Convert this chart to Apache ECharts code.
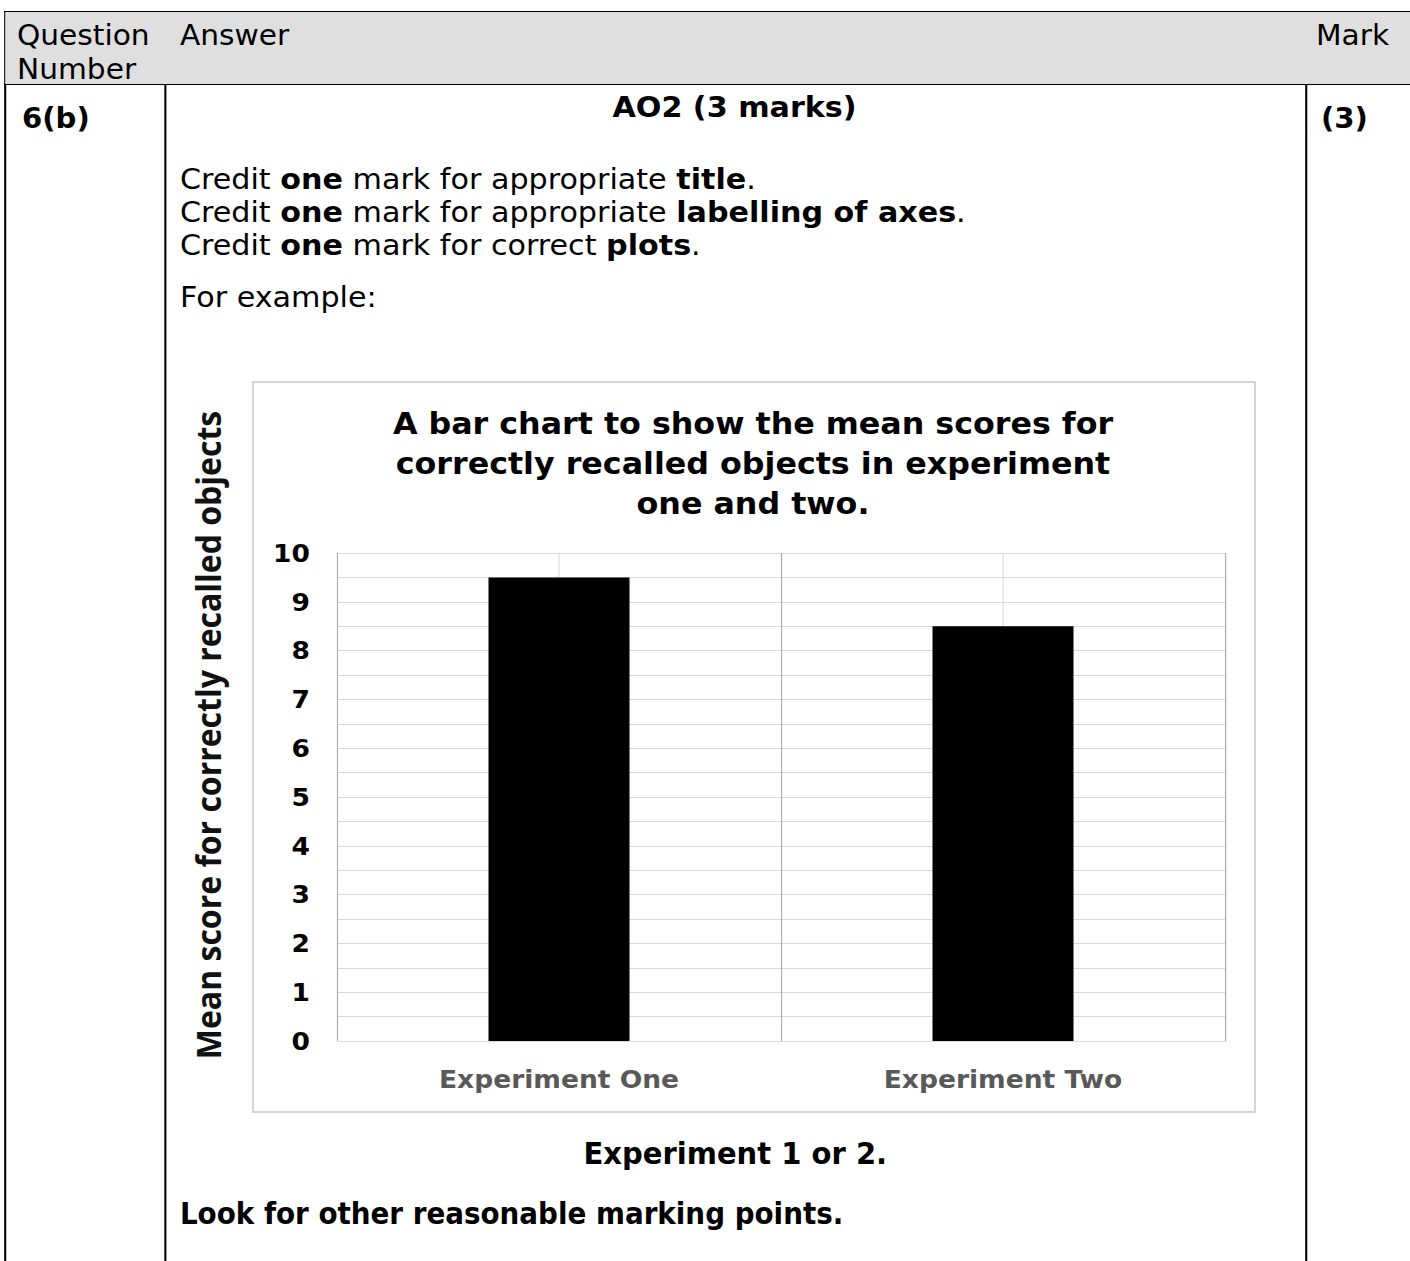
<!DOCTYPE html>
<html>
<head>
<meta charset="utf-8">
<script src="https://cdn.jsdelivr.net/npm/echarts@6/dist/echarts.min.js"></script>
<style>
html, body { margin: 0; padding: 0; background: #fff; }
#page { position: absolute; left: 0; top: 0; height: 1261px; transform-origin: 0 0; overflow: hidden;
        font-family: 'DejaVu Sans', Verdana, sans-serif; color: #000; }
.t { position: absolute; white-space: nowrap; line-height: 1; }
.ln { position: absolute; }
#chart { position: absolute; left: 0; top: 0; height: 1261px; }
</style>
</head>
<body>
<div id="page"><div id="chart"></div></div>
<script>
// chart data
var categories = ['Experiment One', 'Experiment Two'];
var meanScores = [9.5, 8.5];
var yMin = 0, yMax = 10, yStep = 1;
var halfSlots = ['', '', '', ''];   // only used for the gridlines through the bar centres
var titleLines = [
    'A bar chart to show the mean scores for',
    'correctly recalled objects in experiment',
    'one and two.'
];
var yName = 'Mean score for correctly recalled objects';

// the source page is a little stretched sideways, so draw narrow and scale it
var S = 1.04;
function X(v) { return v / S; }

var page = document.getElementById('page');
page.style.width = X(1410) + 'px';
page.style.transform = 'scaleX(' + S + ')';
document.getElementById('chart').style.width = X(1410) + 'px';

function box(x, y, w, h, color) {
    var d = document.createElement('div');
    d.className = 'ln';
    d.style.left = X(x) + 'px';
    d.style.top = y + 'px';
    d.style.width = X(w) + 'px';
    d.style.height = h + 'px';
    d.style.background = color;
    page.insertBefore(d, page.firstChild);
}

// squeeze < 1 narrows the glyphs (the two closing lines use a condensed face)
function text(html, x, base, size, bold, center, squeeze) {
    var d = document.createElement('div');
    d.className = 't';
    d.innerHTML = html;
    d.style.fontSize = size + 'px';
    d.style.fontWeight = bold ? 'bold' : 'normal';
    d.style.top = (base - 0.846 * size) + 'px';
    d.style.left = X(x) + 'px';
    var tf = '';
    if (center) tf += 'translateX(-50%) ';
    if (squeeze) tf += 'scaleX(' + squeeze + ')';
    if (tf) {
        d.style.transform = tf;
        d.style.transformOrigin = center ? '50% 50%' : '0 50%';
    }
    page.appendChild(d);
}

// table
box(5, 12, 1405, 72, '#dfdfdf');
box(4, 11, 1406, 2, '#000');
box(4, 83, 1406, 2, '#000');
box(4, 11, 2, 1250, '#000');
box(164, 11, 2, 1250, '#000');
box(1305, 11, 2, 1250, '#000');

text('Question', 17, 46, 28.5);
text('Number', 17, 80, 28.5);
text('Answer', 180, 46, 28.5);
text('Mark', 1316, 46, 28.5);
text('6(b)', 22, 129, 28, true);
text('(3)', 1321, 129, 28, true);
text('AO2 (3 marks)', 734.5, 118, 29, true, true);
text('Credit <b>one</b> mark for appropriate <b>title</b>.', 180, 190, 29);
text('Credit <b>one</b> mark for appropriate <b>labelling of axes</b>.', 180, 223, 29);
text('Credit <b>one</b> mark for correct <b>plots</b>.', 180, 256, 29);
text('For example:', 180, 308, 29);
text('Experiment 1 or 2.', 735, 1164, 31, true, true, 0.9);
text('Look for other reasonable marking points.', 180, 1224, 30, true, false, 0.89);

var chart = echarts.init(document.getElementById('chart'), null, { renderer: 'svg' });

var option = {
    animation: false,
    backgroundColor: 'transparent',
    title: {
        text: titleLines.join('\n'),
        left: X(753),
        top: 403,
        padding: 0,
        textAlign: 'center',
        textStyle: {
            fontFamily: 'DejaVu Sans',
            fontWeight: 'bold',
            fontSize: 30.5,
            lineHeight: 40,
            color: '#000'
        }
    },
    grid: {
        left: X(337),
        top: 553,
        width: X(888),
        height: 488,
        containLabel: false
    },
    xAxis: [{
        type: 'category',
        data: categories,
        z: 1,
        axisLine: { lineStyle: { color: '#d9d9d9', width: 1 } },
        axisTick: { length: 9, lineStyle: { color: '#a6a6a6' } },
        axisLabel: {
            margin: 25,
            color: '#595959',
            fontFamily: 'DejaVu Sans',
            fontWeight: 'bold',
            fontSize: 25.5
        },
        splitLine: { show: true, lineStyle: { color: '#a6a6a6', width: 1 } }
    }, {
        type: 'category',
        data: halfSlots,
        z: 0,
        axisLine: { show: false },
        axisTick: { show: false },
        axisLabel: { show: false },
        splitLine: { show: true, lineStyle: { color: '#d9d9d9', width: 1 } }
    }],
    yAxis: {
        type: 'value',
        min: yMin,
        max: yMax,
        interval: yStep,
        axisLine: { show: false },
        axisTick: { show: false },
        axisLabel: {
            margin: X(27),
            color: '#000',
            fontFamily: 'DejaVu Sans',
            fontWeight: 'bold',
            fontSize: 25.5
        },
        splitLine: { lineStyle: { color: '#d9d9d9', width: 1 } },
        minorTick: { show: false, splitNumber: 2 },
        minorSplitLine: { show: true, lineStyle: { color: '#d9d9d9', width: 1 } }
    },
    series: [{
        type: 'bar',
        data: meanScores,
        barWidth: X(141),
        itemStyle: { color: '#000' }
    }],
    graphic: [{
        type: 'rect',
        silent: true,
        z: -1,
        shape: { x: X(253), y: 382, width: X(1002), height: 730 },
        style: { fill: 'none', stroke: '#d4d4d4', lineWidth: 2 }
    }, {
        type: 'text',
        silent: true,
        x: X(208),
        y: 735,
        rotation: Math.PI / 2,
        style: {
            text: yName,
            fontFamily: 'Open Sans',
            fontWeight: 'bold',
            fontSize: 32,
            fill: '#111',
            align: 'center',
            verticalAlign: 'middle',
            textAlign: 'center',
            textVerticalAlign: 'middle'
        }
    }]
};

chart.setOption(option);
</script>
</body>
</html>
